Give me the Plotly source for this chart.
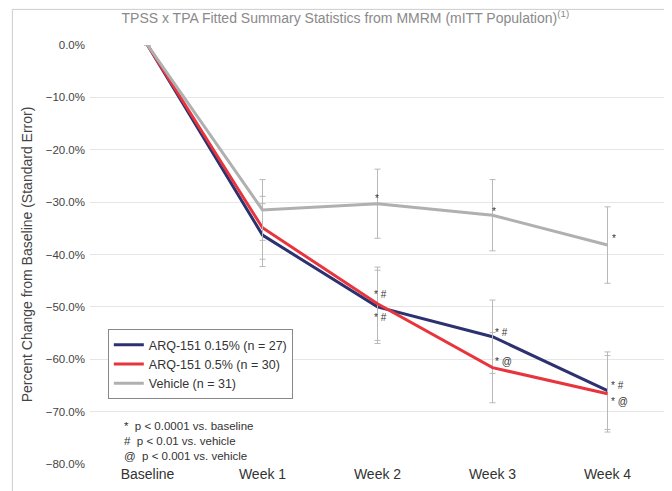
import plotly.graph_objects as go

categories = ["Baseline", "Week 1", "Week 2", "Week 3", "Week 4"]

arq_015 = [0.0, -36.3, -50.0, -55.7, -66.0]
arq_015_se = [0.0, 6.0, 7.0, 7.0, 7.4]

arq_05 = [0.0, -34.9, -49.4, -61.6, -66.6]
arq_05_se = [0.0, 6.0, 7.0, 6.7, 7.3]

vehicle = [0.0, -31.5, -30.3, -32.5, -38.2]
vehicle_se = [0.0, 5.8, 6.6, 6.8, 7.3]

series_names = ["ARQ-151 0.15% (n = 27)", "ARQ-151 0.5% (n = 30)", "Vehicle (n = 31)"]

# significance marks: (category, y value, text, xshift)
marks = [
    ("Week 2", -29.4, "*", -5),
    ("Week 3", -31.7, "*", -3),
    ("Week 4", -37.0, "*", 2),
    ("Week 2", -47.7, "* #", -6),
    ("Week 2", -52.1, "* #", -6),
    ("Week 3", -54.8, "* #", 0),
    ("Week 3", -60.5, "* @", 0),
    ("Week 4", -65.1, "* #", 1),
    ("Week 4", -68.1, "* @", 1),
]

footnotes = ["*  p < 0.0001 vs. baseline", "#  p < 0.01 vs. vehicle", "@  p < 0.001 vs. vehicle"]

NAVY = "#2c3270"
RED = "#e8353d"
GRAY = "#b0b0b0"
ERR = "#b8b8b8"

fig = go.Figure()
for name, vals, se, col in [
    (series_names[0], arq_015, arq_015_se, NAVY),
    (series_names[1], arq_05, arq_05_se, RED),
    (series_names[2], vehicle, vehicle_se, GRAY),
]:
    fig.add_trace(go.Scatter(
        x=categories, y=vals, mode="lines", name=name,
        line=dict(color=col, width=3),
        error_y=dict(type="data", array=se, color=ERR, thickness=1, width=3, visible=True),
    ))

for cat, yv, txt, dx in marks:
    fig.add_annotation(x=cat, y=yv, text=txt, showarrow=False, xanchor="left",
                       xshift=dx, font=dict(size=10, color="#333"))

fig.add_annotation(xref="paper", yref="paper", x=0.055, y=0.055, xanchor="left", yanchor="middle",
                   text="<br>".join(footnotes), align="left", showarrow=False,
                   font=dict(size=11.5, color="#333"))

# faint outer frame (only top and left edges fall inside the view)
fig.add_shape(type="rect", xref="paper", yref="paper", x0=-0.135, x1=1.05, y0=-0.12, y1=1.085,
              line=dict(color="#cccccc", width=1), layer="above")

fig.update_layout(
    width=672, height=491,
    margin=dict(l=82, r=15, t=37, b=35),
    paper_bgcolor="white", plot_bgcolor="white",
    font=dict(family="Liberation Sans, Arial, sans-serif", color="#333"),
    title=dict(text="TPSS x TPA Fitted Summary Statistics from MMRM (mITT Population)<sup>(1)</sup>",
               x=0.502, xanchor="center", y=0.98, yanchor="middle",
               font=dict(size=14, color="#8a8a8a")),
    legend=dict(x=0.031, y=0.322, xanchor="left", yanchor="top", itemwidth=30,
                bordercolor="#888", borderwidth=1, bgcolor="white",
                font=dict(size=12.5, color="#333"), tracegroupgap=0),
    showlegend=True,
)
fig.update_xaxes(range=[-0.5, 4.5], showgrid=False, showline=False, ticks="",
                 tickfont=dict(size=14, color="#333"), automargin=False)
fig.update_yaxes(range=[-80, 0], dtick=10, tickformat=".1f", ticksuffix="%",
                 showgrid=True, gridcolor="#e6e6e6", zeroline=False, automargin=False,
                 tickfont=dict(size=11.5, color="#444"), ticklabelstandoff=4,
                 title=dict(text="Percent Change from Baseline (Standard Error)", font=dict(size=14, color="#444"),
                            standoff=9))

fig.write_html("out.html")
